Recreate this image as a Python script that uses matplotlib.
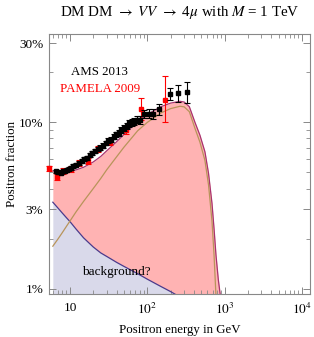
import numpy as np
import matplotlib
matplotlib.use("Agg")
import matplotlib.pyplot as plt
from matplotlib.ticker import FixedLocator, NullFormatter

plt.rcParams["font.family"] = ["Liberation Serif", "DejaVu Serif"]
plt.rcParams["mathtext.fontset"] = "stix"

# AMS 2013 positron fraction
ams_e = [6.6, 7.1, 7.6, 8.1, 8.6, 9.1, 9.6, 10.3, 11.1, 12.0, 13.0, 14.1, 15.3, 16.6,
         17.9, 19.4, 21.1, 22.8, 24.7, 26.7, 28.9, 31.3, 33.9, 36.6, 39.6, 42.8, 46.3,
         50.0, 54.0, 58.2, 62.8, 67.8, 73.4, 80.0, 90.0, 105.0, 120.0, 140.0, 198.0,
         251.0, 328.0]
ams_f = [0.0508, 0.0500, 0.0499, 0.0508, 0.0512, 0.0519, 0.0527, 0.0533, 0.0548, 0.0558,
         0.0570, 0.0586, 0.0602, 0.0614, 0.0633, 0.0652, 0.0670, 0.0693, 0.0705, 0.0726,
         0.0752, 0.0777, 0.0787, 0.0820, 0.0848, 0.0866, 0.0899, 0.0921, 0.0955, 0.0985,
         0.1000, 0.1010, 0.1040, 0.1030, 0.1120, 0.1130, 0.1130, 0.1200, 0.1480, 0.1500,
         0.1520]
ams_err = [0.0012, 0.0012, 0.0012, 0.0012, 0.0012, 0.0012, 0.0012, 0.0013, 0.0013, 0.0013,
           0.0014, 0.0015, 0.0015, 0.0016, 0.0017, 0.0018, 0.0019, 0.0020, 0.0022, 0.0023,
           0.0025, 0.0026, 0.0028, 0.0030, 0.0032, 0.0034, 0.0036, 0.0038, 0.0041, 0.0044,
           0.0047, 0.0050, 0.0054, 0.0058, 0.0063, 0.0070, 0.0075, 0.0085, 0.0125, 0.0170,
           0.0220]

# PAMELA 2009 positron fraction
pam_e = [5.3, 6.7, 8.1, 10.2, 13.1, 17.2, 23.2, 33.3, 52.4, 84.0, 168.0]
pam_f = [0.053, 0.047, 0.051, 0.0524, 0.057, 0.0586, 0.0694, 0.0766, 0.0894, 0.120, 0.136]
pam_lo = [0.002, 0.002, 0.002, 0.002, 0.002, 0.0025, 0.003, 0.0035, 0.004, 0.016, 0.035]
pam_hi = [0.002, 0.002, 0.002, 0.002, 0.002, 0.0025, 0.003, 0.0035, 0.005, 0.020, 0.055]

# model curves: DM contribution and astrophysical background
model_e = [6, 7, 8, 9, 10, 12, 15, 20, 25, 30, 40, 50, 75, 100, 150, 200, 265, 300, 350,
           414, 480, 557, 620, 687, 730, 774, 830, 898, 950, 1000]
dm_f = [0.0180, 0.0199, 0.0218, 0.0237, 0.0255, 0.0290, 0.0335, 0.0400, 0.0460, 0.0520,
        0.0620, 0.0710, 0.0890, 0.1000, 0.1140, 0.1210, 0.1250, 0.1240, 0.1160, 0.0920,
        0.0760, 0.0590, 0.0420, 0.0255, 0.0160, 0.0090, 0.0045, 0.0018, 0.0006, 0.0000]
bg_f = [0.0331, 0.0305, 0.0284, 0.0267, 0.0253, 0.0228, 0.0202, 0.0178, 0.0164, 0.0156,
        0.0144, 0.0136, 0.0123, 0.0114, 0.0103, 0.0096, 0.0089, 0.0086, 0.0083, 0.0080,
        0.0077, 0.0075, 0.0073, 0.0071, 0.0070, 0.0069, 0.0068, 0.0067, 0.0066, 0.0065]

y_ticks = [0.01, 0.03, 0.10, 0.30]
y_labels = ["1%", "3%", "10%", "30%"]
x_ticks = [10, 100, 1000, 10000]
x_labels = ["10", "$10^2$", "$10^3$", "$10^4$"]

model_e = np.array(model_e)
bg = np.array(bg_f)
total = bg + np.array(dm_f)

fig = plt.figure(figsize=(3.14, 3.37), dpi=100)
ax = fig.add_axes([0.156, 0.128, 0.831, 0.771])
ax.set_xscale("log")
ax.set_yscale("log")
ymin = 0.0093
ax.set_xlim(5.35, 12700)
ax.set_ylim(ymin, 0.34)

ax.fill_between(model_e, ymin / 2, bg, color="#d9d9ea", lw=0)
ax.fill_between(model_e, bg, total, color="#ffb3b3", lw=0)
ax.plot(model_e, bg, color="#4a3a8c", lw=0.9)
ax.plot(model_e, total, color="#a8336e", lw=0.9)
ax.plot(model_e, dm_f, color="#b8945a", lw=0.9)

ax.errorbar(pam_e, pam_f, yerr=[pam_lo, pam_hi], fmt="s", color="red", ms=2.5,
            elinewidth=0.8, capsize=2.2, capthick=0.8, clip_on=False, zorder=4)
ax.errorbar(ams_e, ams_f, yerr=ams_err, fmt="s", color="black", ms=2.5,
            elinewidth=0.8, capsize=2.2, capthick=0.8, zorder=5)

ax.text(0.195, 0.855, "AMS 2013", transform=ax.transAxes, ha="center", va="center",
        fontsize=9.3)
ax.text(0.195, 0.79, "PAMELA 2009", transform=ax.transAxes, ha="center", va="center",
        fontsize=9.3, color="red")
ax.text(0.26, 0.085, "background?", transform=ax.transAxes, ha="center", va="center",
        fontsize=9.5)

ax.yaxis.set_major_locator(FixedLocator(y_ticks))
ax.set_yticklabels(y_labels)
ax.yaxis.set_minor_locator(FixedLocator([0.02, 0.04, 0.05, 0.06, 0.07, 0.08, 0.09, 0.2]))
ax.yaxis.set_minor_formatter(NullFormatter())
ax.xaxis.set_major_locator(FixedLocator(x_ticks))
ax.set_xticklabels(x_labels)
minor_x = [m * 10 ** d for d in range(0, 5) for m in range(2, 10)]
ax.xaxis.set_minor_locator(FixedLocator(minor_x))
ax.xaxis.set_minor_formatter(NullFormatter())

for s in ax.spines.values():
    s.set_color("#888888")
    s.set_linewidth(0.8)
ax.tick_params(which="both", direction="in", top=True, right=True, color="#888888",
               labelsize=9.5, pad=4)
ax.tick_params(axis="x", which="both", pad=5.5)
ax.tick_params(which="major", length=5, width=0.7)
ax.tick_params(which="minor", length=2.8, width=0.6)

ax.set_xlabel("Positron energy in GeV", fontsize=9.3, labelpad=5)
ax.set_ylabel("Positron fraction", fontsize=9.3)
ax.yaxis.set_label_coords(-0.12, 0.5)
ax.set_title(r"DM DM $\rightarrow$ $VV$ $\rightarrow$ 4$\mu$ with $M$ = 1 TeV",
             fontsize=10.8, pad=13)

fig.savefig("out.png", dpi=100)
